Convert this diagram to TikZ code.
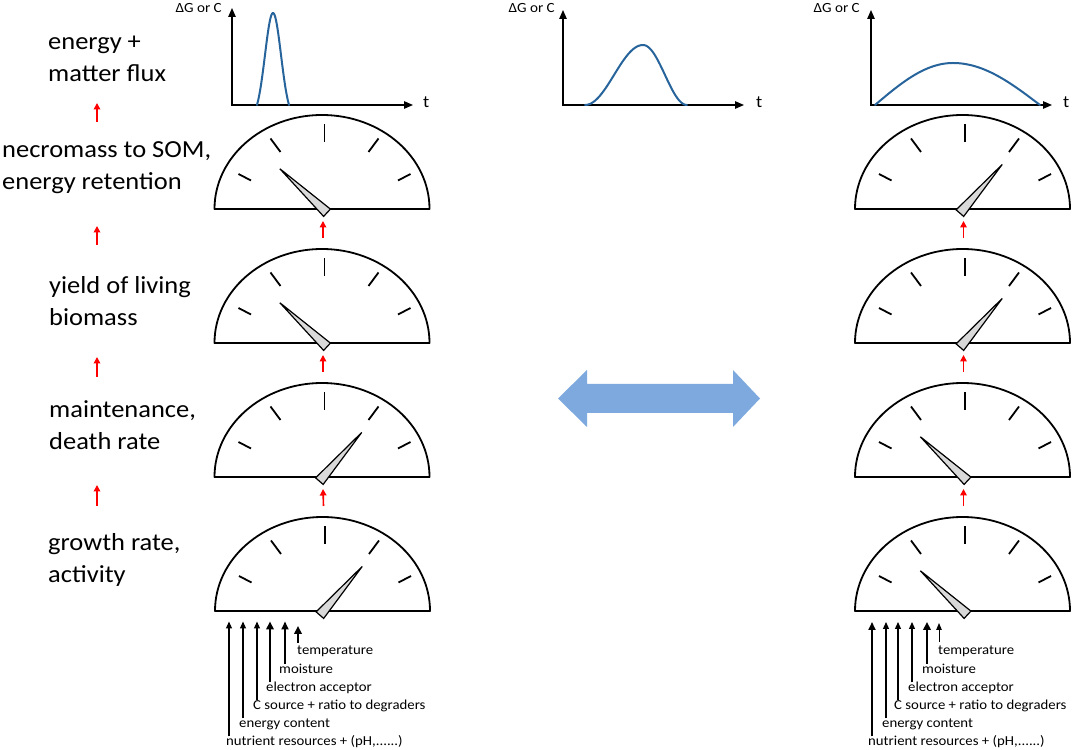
\documentclass[tikz,border=0pt]{standalone}
\usepackage{fontspec}
\setmainfont{Carlito}[FakeStretch=1.08]
\usetikzlibrary{arrows.meta,calc}
\definecolor{curveblue}{RGB}{38,100,155}
\definecolor{bigarrowblue}{RGB}{126,169,222}
\definecolor{needlegray}{RGB}{217,217,217}
\tikzset{
  gline/.style={line width=1.8pt, line join=round},
  pics/gauge/.style={code={
    \draw[gline, fill=white] (-107.5,0) arc[start angle=180,end angle=0,x radius=107.5,y radius=94] -- cycle;
    \begin{scope}[xshift=2.5]
      \draw[gline] (0,67) -- (0,85);
      \draw[gline] (-44,57) -- (-54,70.5);
      \draw[gline] (44,57) -- (54,70.5);
      \draw[gline] (-73.5,28.5) -- (-86,35);
      \draw[gline] (73.5,28.5) -- (86,35);
    \end{scope}
    \draw[line width=1.2pt, fill=needlegray, line join=miter, shift={(1,0)}, rotate=#1]
      (-5.5,-5) -- (59,0) -- (-5.5,5) -- cycle;
    \coordinate (-in) at (1,-12);
    \coordinate (-tail) at (1,105);
  }},
  redarr/.style={red, line width=1.6pt, -{Triangle[length=6.5pt,width=6.5pt]}},
  axisarr/.style={line width=1.2pt, {Triangle[length=9pt,width=7.5pt]}-{Triangle[length=9pt,width=7.5pt]}},
  curve/.style={curveblue, line width=2pt, line cap=round},
  biglabel/.style={font=\fontsize{24.5}{32.5}\selectfont, align=left, inner sep=0pt, anchor=base west},
  smalllabel/.style={font=\fontsize{13.7}{16}\selectfont, inner sep=0pt, anchor=base west, text height=9pt},
  axlabel/.style={font=\fontsize{14}{16}\selectfont, inner sep=0pt, anchor=east},
  tlabel/.style={font=\fontsize{17}{19}\selectfont, inner sep=0pt, anchor=base west},
  inthin/.style={line width=1.2pt, -{Triangle[length=7pt,width=6pt]}},
  inmed/.style={line width=1.8pt, -{Triangle[length=8pt,width=7pt]}},
  inthick/.style={line width=2.8pt, -{Triangle[length=8pt,width=7.5pt]}},
  inhair/.style={line width=1pt, -{Triangle[length=7pt,width=5.5pt]}},
}
\begin{document}
\begin{tikzpicture}[x=1pt,y=1pt]
\useasboundingbox (0,0) rectangle (1072,750);

% ---------- graphs ----------
\coordinate (oA) at (232,645); \coordinate (yA) at (232,742); \coordinate (xA) at (413,645);
\draw[axisarr] (yA) -- (oA) -- (xA);
\node[axlabel] (lA) at (222,742) {ΔG or C};
\node[tlabel] (tA) at (423,642) {t};
\draw[curve] plot[domain=-2:2, samples=60, variable=\u]
  ({273+8*\u}, {645+92*(exp(-\u*\u/2)-exp(-2))/(1-exp(-2))});

\coordinate (oB) at (563,645); \coordinate (yB) at (563,740); \coordinate (xB) at (744,645);
\draw[axisarr] (yB) -- (oB) -- (xB);
\node[axlabel] (lB) at (555,742) {ΔG or C};
\node[tlabel] (tB) at (756,642) {t};
\draw[curve] plot[domain=0:1, samples=40, variable=\u] ({585+58*\u}, {645+30*(1-cos(180*\u))})
  -- plot[domain=0:1, samples=40, variable=\u] ({643+44*\u}, {645+30*(1+cos(180*\u))});

\coordinate (oC) at (871,645); \coordinate (yC) at (871,740); \coordinate (xC) at (1052,645);
\draw[axisarr] (yC) -- (oC) -- (xC);
\node[axlabel] (lC) at (860,742) {ΔG or C};
\node[tlabel] (tC) at (1063,642) {t};
\draw[curve] plot[domain=0:1, samples=40, variable=\u] ({875+78*\u}, {645+42*sin(90*\u)})
  -- plot[domain=0:1, samples=40, variable=\u] ({953+87*\u}, {645+42*cos(90*\u)});

% ---------- left labels (anchor = baseline of last line) ----------
\node[biglabel] (lab1) at (48,668) {energy +\\matter flux};
\node[biglabel] (lab2) at (2,560) {necromass to SOM,\\energy retention};
\node[biglabel] (lab3) at (49,424) {yield of living\\biomass};
\node[biglabel] (lab4) at (49,300) {maintenance,\\death rate};
\node[biglabel] (lab5) at (48,167) {growth rate,\\activity};

\coordinate (r1a) at (97,628); \coordinate (r1b) at (97,647);
\coordinate (r2a) at (97,505); \coordinate (r2b) at (97,524);
\coordinate (r3a) at (97,373); \coordinate (r3b) at (97,393);
\coordinate (r4a) at (97,244); \coordinate (r4b) at (97,265);
\draw[redarr] (r1a) -- (r1b);
\draw[redarr] (r2a) -- (r2b);
\draw[redarr] (r3a) -- (r3b);
\draw[redarr] (r4a) -- (r4b);

% ---------- gauges ----------
\pic (gL1) at (322,541) {gauge=137};
\pic (gL2) at (322,407) {gauge=137};
\pic (gL3) at (322,273) {gauge=49};
\pic (gL4) at (322.5,139) {gauge=49};
\pic (gR1) at (962.5,541) {gauge=49};
\pic (gR2) at (962.5,407) {gauge=49};
\pic (gR3) at (962.5,273) {gauge=137};
\pic (gR4) at (962.5,139) {gauge=137};

\draw[redarr] (gL2-tail) -- (gL1-in);
\draw[redarr] (gL3-tail) -- (gL2-in);
\draw[redarr] (gL4-tail) -- (gL3-in);
\draw[redarr] (gR2-tail) -- (gR1-in);
\draw[redarr] (gR3-tail) -- (gR2-in);
\draw[redarr] (gR4-tail) -- (gR3-in);

% ---------- big double arrow ----------
\fill[bigarrowblue] (558,351.5) -- (587,380) -- (587,366) -- (733,366) -- (733,380) -- (760,351.5)
  -- (733,323) -- (733,337) -- (587,337) -- (587,323) -- cycle;

% ---------- input factors, left ----------
\node[smalllabel] (tL1) at (226,4.3) {nutrient resources + (pH,......)};
\node[smalllabel] (tL2) at (239,22.3) {energy content};
\node[smalllabel] (tL3) at (253,40.7) {C source + ratio to degraders};
\node[smalllabel] (tL4) at (266,58.3) {electron acceptor};
\node[smalllabel] (tL5) at (279,76.7) {moisture};
\node[smalllabel] (tL6) at (297,95) {temperature};
\coordinate (aL1) at (229,128.5); \coordinate (aL2) at (243,128.5); \coordinate (aL3) at (257,128.5);
\coordinate (aL4) at (270,128.5); \coordinate (aL5) at (285,128.5); \coordinate (aL6) at (298,124);
\draw[inthin] (tL1.north -| aL1) -- (aL1);
\draw[inthin] (tL2.north -| aL2) -- (aL2);
\draw[inthin] (tL3.north -| aL3) -- (aL3);
\draw[inthick] (tL4.north -| aL4) -- (aL4);
\draw[inmed] (tL5.north -| aL5) -- (aL5);
\draw[inthick, shorten <=3pt] (tL6.north -| aL6) -- (aL6);

% ---------- input factors, right ----------
\node[smalllabel] (tR1) at (868,4.3) {nutrient resources + (pH,......)};
\node[smalllabel] (tR2) at (882,22.3) {energy content};
\node[smalllabel] (tR3) at (894,40.7) {C source + ratio to degraders};
\node[smalllabel] (tR4) at (908,58.3) {electron acceptor};
\node[smalllabel] (tR5) at (922,76.7) {moisture};
\node[smalllabel] (tR6) at (938,95) {temperature};
\coordinate (aR1) at (872,128); \coordinate (aR2) at (886,128); \coordinate (aR3) at (898,128);
\coordinate (aR4) at (912,128); \coordinate (aR5) at (927,128); \coordinate (aR6) at (939,127);
\draw[inmed] (tR1.north -| aR1) -- (aR1);
\draw[inthin] (tR2.north -| aR2) -- (aR2);
\draw[inthin] (tR3.north -| aR3) -- (aR3);
\draw[inthin] (tR4.north -| aR4) -- (aR4);
\draw[inthick] (tR5.north -| aR5) -- (aR5);
\draw[inhair, shorten <=4pt] (tR6.north -| aR6) -- (aR6);
\end{tikzpicture}
\end{document}
